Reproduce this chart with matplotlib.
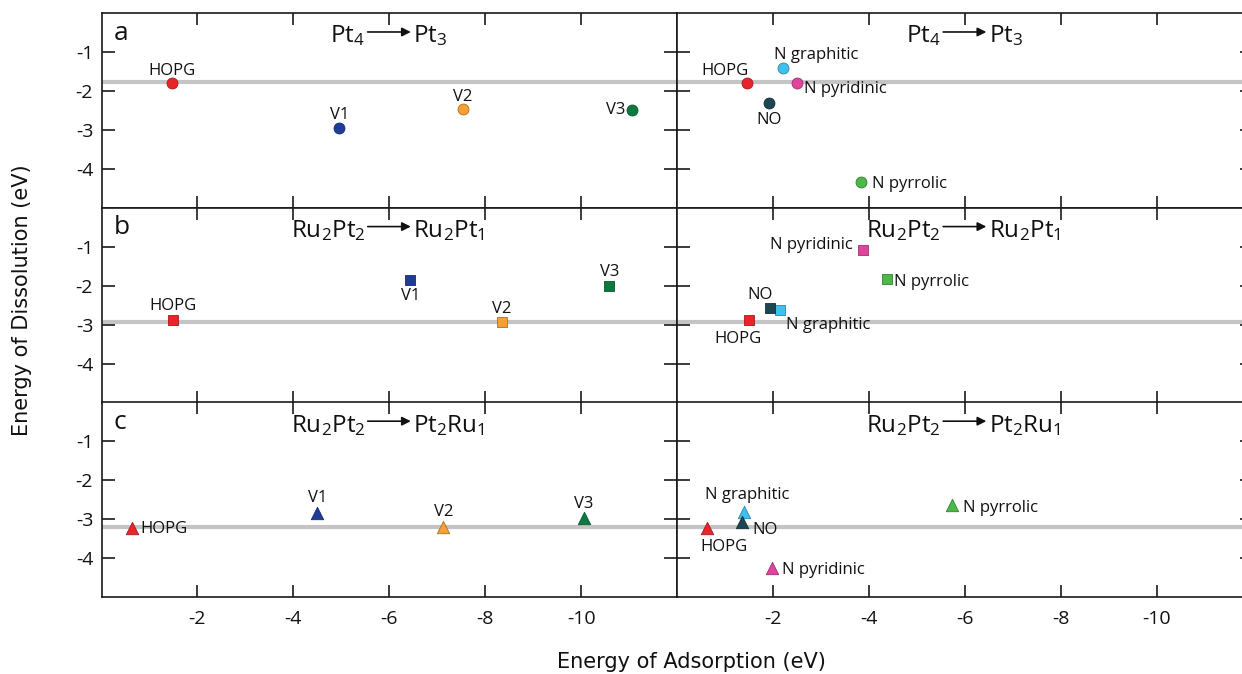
import matplotlib
matplotlib.use('Agg')
import matplotlib.pyplot as plt

plt.rcParams['font.family'] = ['Open Sans', 'DejaVu Sans']
plt.rcParams['mathtext.fontset'] = 'custom'
plt.rcParams['mathtext.rm'] = 'Open Sans'
plt.rcParams['mathtext.it'] = 'Open Sans:italic'
plt.rcParams['mathtext.bf'] = 'Open Sans:bold'
plt.rcParams['mathtext.default'] = 'regular'
plt.rcParams['axes.unicode_minus'] = False

# ---------------- data ----------------
left_sites = ['HOPG', 'V1', 'V2', 'V3']
right_sites = ['HOPG', 'N graphitic', 'N pyridinic', 'NO', 'N pyrrolic']

# panel a : Pt4 -> Pt3
a_left_ads = [-1.47, -4.96, -7.54, -11.07]
a_left_dis = [-1.79, -2.94, -2.47, -2.49]
a_right_ads = [-1.47, -2.22, -2.50, -1.92, -3.84]
a_right_dis = [-1.79, -1.40, -1.78, -2.30, -4.33]
a_ref = -1.77

# panel b : Ru2Pt2 -> Ru2Pt1
b_left_ads = [-1.49, -6.43, -8.35, -10.59]
b_left_dis = [-2.89, -1.86, -2.92, -2.00]
b_right_ads = [-1.50, -2.14, -3.88, -1.93, -4.38]
b_right_dis = [-2.87, -2.62, -1.08, -2.56, -1.83]
b_ref = -2.92

# panel c : Ru2Pt2 -> Pt2Ru1
c_left_ads = [-0.63, -4.50, -7.13, -10.06]
c_left_dis = [-3.23, -2.83, -3.19, -2.96]
c_right_ads = [-0.63, -1.40, -1.98, -1.36, -5.74]
c_right_dis = [-3.23, -2.82, -4.26, -3.06, -2.63]
c_ref = -3.21

panel_letters = ['a', 'b', 'c']
reactants = ['Pt$_4$', 'Ru$_2$Pt$_2$', 'Ru$_2$Pt$_2$']
products = ['Pt$_3$', 'Ru$_2$Pt$_1$', 'Pt$_2$Ru$_1$']

x_ticks = [-2, -4, -6, -8, -10]
y_ticks = [-1, -2, -3, -4]

# ---------------- styles ----------------
colors = {
    'HOPG': '#e8262a',
    'V1': '#1f3d98',
    'V2': '#f5a033',
    'V3': '#0c7a40',
    'N graphitic': '#40c0f0',
    'N pyridinic': '#e0449c',
    'NO': '#1b4652',
    'N pyrrolic': '#4cb848',
}
markers = ['o', 's', '^']
msizes = [62, 52, 80]

# label offsets in pixels (dx, dy, ha, va)
lab_left = [
    {'HOPG': (0, 8, 'center', 'baseline'), 'V1': (0, 9, 'center', 'baseline'),
     'V2': (0, 8, 'center', 'baseline'), 'V3': (-7, 0, 'right', 'center')},
    {'HOPG': (0, 10, 'center', 'baseline'), 'V1': (1, -8, 'center', 'top'),
     'V2': (0, 9, 'center', 'baseline'), 'V3': (0, 10, 'center', 'baseline')},
    {'HOPG': (9, -5, 'left', 'baseline'), 'V1': (0, 11, 'center', 'baseline'),
     'V2': (0, 11, 'center', 'baseline'), 'V3': (0, 10, 'center', 'baseline')},
]
lab_right = [
    {'HOPG': (1, 8, 'right', 'baseline'), 'N graphitic': (-9, 9, 'left', 'baseline'),
     'N pyridinic': (7, -6, 'left', 'center'), 'NO': (0, -9, 'center', 'top'),
     'N pyrrolic': (11, -2, 'left', 'center')},
    {'HOPG': (-11, -11, 'center', 'top'), 'N graphitic': (6, -19, 'left', 'baseline'),
     'N pyridinic': (-10, 1, 'right', 'baseline'), 'NO': (-9, 9, 'center', 'baseline'),
     'N pyrrolic': (7, -7, 'left', 'baseline')},
    {'HOPG': (-7, -11, 'left', 'top'), 'N graphitic': (-39, 13, 'left', 'baseline'),
     'N pyridinic': (10, -6, 'left', 'baseline'), 'NO': (10, -12, 'left', 'baseline'),
     'N pyrrolic': (11, -7, 'left', 'baseline')},
]

left_data = [(a_left_ads, a_left_dis), (b_left_ads, b_left_dis), (c_left_ads, c_left_dis)]
right_data = [(a_right_ads, a_right_dis), (b_right_ads, b_right_dis), (c_right_ads, c_right_dis)]
refs = [a_ref, b_ref, c_ref]

W, H = 1242, 674
fig = plt.figure(figsize=(W / 100, H / 100), dpi=100)

x0_left, x_div = 101.5, 677.0
top0, row_h = 13.3, 194.6
col_w = x_div - x0_left
ink = '#111111'


def darker(c, f=0.7):
    import matplotlib.colors as mc
    r, g, b = mc.to_rgb(c)
    return (r * f, g * f, b * f)


for row in range(3):
    bottom = 1 - (top0 + row_h * (row + 1)) / H
    height = row_h / H
    for col in range(2):
        left = (x0_left if col == 0 else x_div) / W
        ax = fig.add_axes([left, bottom, col_w / W, height])
        ax.set_xlim(0, -12)
        ax.set_ylim(-5, 0)
        ax.set_xticks(x_ticks)
        ax.set_yticks(y_ticks)
        for sp in ax.spines.values():
            sp.set_linewidth(1.2)
            sp.set_color('#1a1a1a')
        ax.tick_params(axis='both', direction='in', width=1.2, color='#1a1a1a',
                       top=True, right=True, labelsize=14, labelcolor=ink)
        ax.tick_params(axis='y', length=9.5, pad=6, labelleft=(col == 0))
        ax.tick_params(axis='x', length=8.5, pad=9, labelbottom=(row == 2))

        ax.axhline(refs[row], color='#c4c4c4', lw=3, zorder=1)

        if col == 0:
            xs, ys = left_data[row]
            names = left_sites
            labs = lab_left[row]
        else:
            xs, ys = right_data[row]
            names = right_sites
            labs = lab_right[row]
        for name, xv, yv in zip(names, xs, ys):
            ax.scatter([xv], [yv], marker=markers[row], s=msizes[row],
                       color=colors[name], edgecolors=[darker(colors[name])],
                       linewidths=0.6, zorder=3)
            dx, dy, ha, va = labs[name]
            ax.annotate(name, (xv, yv), xytext=(dx, dy), textcoords='offset pixels',
                        ha=ha, va=va, fontsize=12, color=ink, zorder=4)

        # reaction title
        ax.text(-5.5, -0.75, reactants[row], ha='right', va='baseline',
                fontsize=17.5, color=ink)
        ax.text(-6.5, -0.75, products[row], ha='left', va='baseline',
                fontsize=17.5, color=ink)
        ax.annotate('', xy=(-6.45, -0.48), xytext=(-5.55, -0.48),
                    arrowprops=dict(arrowstyle='-|>', lw=1.2, color=ink,
                                    mutation_scale=13, shrinkA=0, shrinkB=0))
        if col == 0:
            ax.text(-0.25, -0.68, panel_letters[row], ha='left', va='baseline',
                    fontsize=19, color=ink)

fig.text(691 / W, 1 - 668 / H, 'Energy of Adsorption (eV)', ha='center', va='baseline',
         fontsize=15, family='DejaVu Sans', color=ink)
fig.text(22 / W, 1 - 300 / H, 'Energy of Dissolution (eV)', ha='center', va='center',
         rotation=90, fontsize=15, family='DejaVu Sans', color=ink)

fig.savefig('out.png', dpi=100)
